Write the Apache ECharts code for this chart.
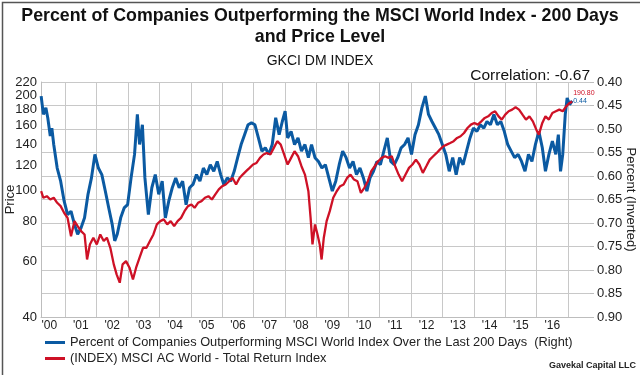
<!DOCTYPE html>
<html>
<head>
<meta charset="utf-8">
<script src="https://cdn.jsdelivr.net/npm/echarts@6/dist/echarts.min.js"></script>
<style>
html, body { margin: 0; padding: 0; background: #fff; }
#chart { width: 640px; height: 375px; }
</style>
</head>
<body>
<div id="chart"></div>
<script>
// Percent of companies outperforming (right axis, inverted)
const pctYears = [
    2000.24, 2000.31, 2000.39, 2000.45, 2000.53, 2000.58, 2000.64, 2000.75, 2000.86, 2000.97,
    2001.08, 2001.19, 2001.30, 2001.40, 2001.51, 2001.62, 2001.73, 2001.84, 2001.95,
    2002.06, 2002.17, 2002.28, 2002.39, 2002.50, 2002.58, 2002.66, 2002.77, 2002.88, 2002.99,
    2003.10, 2003.21, 2003.30, 2003.37, 2003.46, 2003.54, 2003.65, 2003.76, 2003.87, 2003.98,
    2004.09, 2004.19, 2004.30, 2004.41, 2004.52, 2004.63, 2004.74, 2004.85, 2004.96,
    2005.07, 2005.18, 2005.29, 2005.40, 2005.51, 2005.62, 2005.73, 2005.84, 2005.95,
    2006.05, 2006.16, 2006.27, 2006.38, 2006.49, 2006.60, 2006.71, 2006.82, 2006.93,
    2007.04, 2007.15, 2007.26, 2007.37, 2007.48, 2007.59, 2007.70, 2007.81, 2007.91,
    2008.00, 2008.08, 2008.19, 2008.30, 2008.41, 2008.52, 2008.63, 2008.74, 2008.84, 2008.95,
    2009.06, 2009.17, 2009.28, 2009.39, 2009.50, 2009.61, 2009.72, 2009.83, 2009.94,
    2010.05, 2010.16, 2010.27, 2010.38, 2010.49, 2010.60, 2010.70, 2010.81, 2010.92,
    2011.03, 2011.14, 2011.25, 2011.36, 2011.47, 2011.58, 2011.69, 2011.80, 2011.91,
    2012.02, 2012.13, 2012.24, 2012.35, 2012.46, 2012.56, 2012.67, 2012.78, 2012.89,
    2013.00, 2013.11, 2013.22, 2013.33, 2013.44, 2013.55, 2013.66, 2013.77, 2013.88, 2013.99,
    2014.10, 2014.21, 2014.32, 2014.42, 2014.53, 2014.64, 2014.75, 2014.86, 2014.97,
    2015.08, 2015.19, 2015.30, 2015.41, 2015.52, 2015.63, 2015.74, 2015.85, 2015.96,
    2016.07, 2016.18, 2016.28, 2016.39, 2016.50, 2016.61, 2016.69, 2016.76, 2016.83, 2016.91,
    2016.97, 2017.05, 2017.13
];
const pctValues = [
    0.430, 0.469, 0.455, 0.476, 0.515, 0.498, 0.533, 0.583, 0.611, 0.653,
    0.682, 0.675, 0.703, 0.724, 0.710, 0.689, 0.639, 0.604, 0.554,
    0.583, 0.597, 0.632, 0.668, 0.703, 0.738, 0.724, 0.689, 0.668, 0.661,
    0.604, 0.554, 0.469, 0.533, 0.491, 0.604, 0.682, 0.625, 0.597, 0.639,
    0.611, 0.689, 0.653, 0.625, 0.604, 0.625, 0.611, 0.661, 0.625,
    0.618, 0.597, 0.611, 0.583, 0.597, 0.576, 0.590, 0.569, 0.597,
    0.618, 0.604, 0.611, 0.590, 0.561, 0.533, 0.512, 0.491, 0.487,
    0.491, 0.519, 0.547, 0.540, 0.554, 0.533, 0.476, 0.512, 0.484,
    0.462, 0.519, 0.505, 0.533, 0.519, 0.547, 0.533, 0.561, 0.533, 0.561,
    0.569, 0.583, 0.576, 0.604, 0.632, 0.611, 0.576, 0.547, 0.561,
    0.583, 0.569, 0.597, 0.583, 0.604, 0.632, 0.604, 0.590, 0.569,
    0.576, 0.547, 0.519, 0.569, 0.576, 0.561, 0.540, 0.533, 0.519,
    0.554, 0.512, 0.491, 0.455, 0.430, 0.469, 0.484, 0.498, 0.512,
    0.533, 0.554, 0.590, 0.561, 0.597, 0.561, 0.576, 0.547, 0.519, 0.498,
    0.505, 0.491, 0.498, 0.484, 0.491, 0.469, 0.491, 0.484, 0.505,
    0.533, 0.547, 0.561, 0.554, 0.569, 0.590, 0.554, 0.569, 0.533,
    0.505, 0.540, 0.590, 0.554, 0.526, 0.554, 0.512, 0.590, 0.554, 0.469,
    0.434, 0.448, 0.440
];

// MSCI AC World total return index (left axis, log scale)
const priceYears = [
    2000.24, 2000.31, 2000.42, 2000.53, 2000.64, 2000.75, 2000.86, 2000.97,
    2001.08, 2001.19, 2001.30, 2001.40, 2001.51, 2001.62, 2001.70, 2001.79, 2001.90,
    2002.01, 2002.12, 2002.23, 2002.33, 2002.44, 2002.55, 2002.64, 2002.74, 2002.83, 2002.94,
    2003.05, 2003.16, 2003.26, 2003.37, 2003.48, 2003.59, 2003.70, 2003.81, 2003.92,
    2004.03, 2004.14, 2004.25, 2004.36, 2004.47, 2004.58, 2004.69, 2004.80, 2004.91,
    2005.02, 2005.12, 2005.23, 2005.34, 2005.45, 2005.56, 2005.67, 2005.78, 2005.89,
    2006.00, 2006.11, 2006.22, 2006.33, 2006.44, 2006.55, 2006.65, 2006.76, 2006.87, 2006.98,
    2007.09, 2007.20, 2007.31, 2007.42, 2007.53, 2007.64, 2007.75, 2007.86, 2007.97,
    2008.08, 2008.19, 2008.30, 2008.41, 2008.52, 2008.63, 2008.74, 2008.81, 2008.87, 2008.95,
    2009.03, 2009.10, 2009.16, 2009.23, 2009.32, 2009.42, 2009.53, 2009.64, 2009.75, 2009.86, 2009.97,
    2010.08, 2010.19, 2010.30, 2010.41, 2010.52, 2010.63, 2010.74, 2010.85, 2010.96,
    2011.07, 2011.18, 2011.28, 2011.39, 2011.50, 2011.61, 2011.72, 2011.83, 2011.94,
    2012.05, 2012.16, 2012.27, 2012.38, 2012.49, 2012.60, 2012.71, 2012.82, 2012.92,
    2013.03, 2013.14, 2013.25, 2013.36, 2013.47, 2013.58, 2013.69, 2013.80, 2013.91,
    2014.02, 2014.13, 2014.24, 2014.35, 2014.46, 2014.57, 2014.68, 2014.79, 2014.89,
    2015.00, 2015.11, 2015.22, 2015.33, 2015.44, 2015.55, 2015.66, 2015.77, 2015.88, 2015.99,
    2016.07, 2016.18, 2016.28, 2016.39, 2016.50, 2016.61, 2016.72, 2016.83, 2016.94,
    2017.05, 2017.13
];
const priceValues = [
    99.6, 95.0, 96.1, 93.8, 95.0, 91.6, 89.4, 85.2,
    82.1, 71.9, 80.2, 77.3, 74.6, 72.8, 60.7, 67.7, 71.1,
    67.7, 72.8, 69.4, 71.1, 66.1, 58.6, 54.5, 51.3, 58.6, 60.0,
    57.2, 52.5, 57.2, 61.5, 66.1, 66.1, 69.4, 72.8, 78.3,
    80.2, 81.2, 78.3, 80.2, 77.3, 80.2, 82.1, 86.2, 89.4,
    90.5, 88.3, 91.6, 92.7, 95.0, 96.1, 93.8, 97.3, 100.9,
    103.3, 104.6, 107.1, 109.7, 104.6, 109.7, 112.4, 115.2, 118.0, 120.9,
    122.3, 126.9, 130.0, 131.5, 130.0, 136.4, 143.2, 139.7, 130.0,
    120.9, 126.9, 133.1, 128.4, 119.4, 112.4, 99.6, 82.1, 67.7, 78.3,
    72.8, 67.7, 60.7, 71.1, 80.2, 86.2, 95.0, 99.6, 103.3, 104.6, 109.7,
    112.4, 108.4, 107.1, 98.4, 102.1, 107.1, 115.2, 119.4, 123.8,
    126.9, 128.4, 126.9, 128.4, 119.4, 112.4, 107.1, 112.4, 118.0,
    120.9, 125.3, 120.9, 113.8, 119.4, 125.3, 128.4, 131.5, 134.7,
    138.0, 139.7, 141.4, 143.2, 146.6, 148.4, 152.0, 157.6, 161.5,
    163.5, 161.5, 165.4, 169.5, 171.5, 175.7, 177.9, 171.5, 167.5,
    173.6, 177.9, 180.0, 183.1, 180.0, 173.6, 167.5, 171.5, 165.4, 155.7,
    150.2, 163.5, 171.5, 167.5, 175.7, 177.9, 180.0, 177.9, 184.4,
    189.0, 190.8
];

// axis ticks
const priceTicks = [40, 60, 80, 100, 120, 140, 160, 180, 200, 220];
const yearLines = [2001, 2002, 2003, 2004, 2005, 2006, 2007, 2008, 2009, 2010, 2011, 2012, 2013, 2014, 2015, 2016, 2017];
const yearLabels = ["'00", "'01", "'02", "'03", "'04", "'05", "'06", "'07", "'08", "'09", "'10", "'11", "'12", "'13", "'14", "'15", "'16"];

const BLUE = "#0B5AA2";
const RED = "#CE1126";
const FONT = "'Liberation Sans', Arial, sans-serif";
const pctName = "Percent of Companies Outperforming MSCI World Index Over the Last 200 Days  (Right)";
const priceName = "(INDEX) MSCI AC World - Total Return Index";

let pctData = pctYears.map((y, i) => [y, pctValues[i]]);
let priceData = priceYears.map((y, i) => [y, Math.log10(priceValues[i])]);

let chart = echarts.init(document.getElementById("chart"));
let option = {
    animation: false,
    textStyle: {fontFamily: FONT},
    title: [
        {
            text: "Percent of Companies Outperforming the MSCI World Index - 200 Days\nand Price Level",
            left: "center", top: 1,
            textStyle: {fontSize: 17.8, fontWeight: "bold", color: "#111", lineHeight: 21, fontFamily: FONT}
        },
        {
            text: "GKCI DM INDEX",
            left: "center", top: 49,
            textStyle: {fontSize: 14, fontWeight: "normal", color: "#111", fontFamily: FONT}
        },
        {
            text: "Correlation: -0.67",
            right: 45, top: 63,
            textStyle: {fontSize: 15.5, fontWeight: "normal", color: "#111", fontFamily: FONT}
        }
    ],
    grid: {left: 41, right: 50, top: 82, bottom: 58, outerBoundsMode: "none"},
    legend: {
        orient: "vertical", left: 40, top: 331, itemGap: 3,
        icon: "rect", itemWidth: 20, itemHeight: 3,
        textStyle: {fontSize: 12.8, color: "#222", fontFamily: FONT},
        data: [pctName, priceName]
    },
    xAxis: {
        type: "value", min: 2000.235, max: 2017.697,
        axisLine: {show: true, lineStyle: {color: "#bdbdbd"}},
        axisTick: {show: false, customValues: yearLines},
        splitLine: {show: true, lineStyle: {color: "#c8c8c8"}},
        axisLabel: {
            customValues: yearLines.map(y => y - 0.5),
            formatter: v => yearLabels[Math.round(v - 0.5) - 2000],
            fontSize: 12, color: "#222", margin: 3
        }
    },
    yAxis: [
        {
            type: "value", position: "left",
            min: Math.log10(40), max: Math.log10(220),
            name: "Price", nameLocation: "middle", nameGap: 24, nameMoveOverlap: false,
            nameTextStyle: {fontSize: 13, color: "#222"},
            axisLine: {show: true, lineStyle: {color: "#bdbdbd"}},
            axisTick: {show: false},
            splitLine: {show: false},
            axisLabel: {
                customValues: priceTicks.map(v => Math.log10(v)),
                formatter: v => Math.round(Math.pow(10, v)),
                fontSize: 13, color: "#222", margin: 4
            }
        },
        {
            type: "value", position: "right", inverse: true,
            min: 0.40, max: 0.90, interval: 0.05,
            name: "Percent (Inverted)", nameLocation: "middle", nameGap: 34, nameRotate: -90,
            nameMoveOverlap: false,
            nameTextStyle: {fontSize: 13, color: "#222"},
            axisLine: {show: false},
            axisTick: {show: true, length: 4, lineStyle: {color: "#bdbdbd"}},
            splitLine: {show: true, lineStyle: {color: "#c8c8c8"}},
            axisLabel: {formatter: v => v.toFixed(2), fontSize: 13, color: "#222", margin: 7}
        }
    ],
    series: [
        {
            name: pctName, type: "line", yAxisIndex: 1,
            showSymbol: false, symbol: "none",
            color: BLUE,
            lineStyle: {width: 3, color: BLUE},
            data: pctData,
            endLabel: {
                show: true, color: BLUE, fontSize: 7, distance: 1,
                formatter: () => pctValues[pctValues.length - 1].toFixed(2)
            }
        },
        {
            name: priceName, type: "line", yAxisIndex: 0,
            showSymbol: false, symbol: "none",
            color: RED,
            lineStyle: {width: 2.3, color: RED},
            data: priceData,
            endLabel: {
                show: true, color: RED, fontSize: 7, distance: 1, offset: [0, -9],
                formatter: () => priceValues[priceValues.length - 1].toFixed(2)
            }
        }
    ],
    graphic: [
        {
            type: "text", right: 4, bottom: 5,
            style: {text: "Gavekal Capital LLC", font: "bold 9px " + FONT, fill: "#222"}
        },
        {
            type: "rect", left: 0, top: 0, silent: true,
            shape: {x: 0, y: 0, width: 639, height: 374},
            style: {fill: null, stroke: "#555", lineWidth: 1.5}
        }
    ]
};
chart.setOption(option);
</script>
</body>
</html>
